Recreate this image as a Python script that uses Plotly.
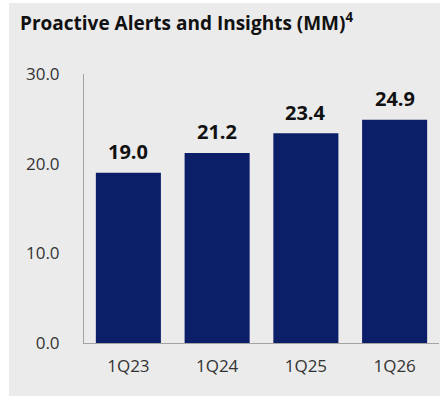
import plotly.graph_objects as go

# Quarterly counts (millions)
quarters = ["1Q23", "1Q24", "1Q25", "1Q26"]
alerts_mm = [19.0, 21.2, 23.4, 24.9]
y_ticks = [0, 10, 20, 30]
y_tick_text = ["0.0", "10.0", "20.0", "30.0"]

BAR_COLOR = "#0b1f68"
PANEL = "#ebebeb"
AXIS = "#a3a3a3"
FONT = "Open Sans"

fig = go.Figure()
fig.add_trace(go.Bar(
    x=quarters,
    y=alerts_mm,
    marker=dict(color=BAR_COLOR, line=dict(width=0)),
    hoverinfo="skip",
))

# value labels above each bar
for q, v in zip(quarters, alerts_mm):
    fig.add_annotation(
        x=q, y=v, text=f"<b>{v:.1f}</b>",
        showarrow=False, yanchor="middle", yshift=21,
        font=dict(family=FONT, size=20, color="#111111"),
    )

# grey card behind the chart
fig.add_shape(
    type="rect", xref="paper", yref="paper", layer="below",
    x0=-75 / 355, x1=1.01, y0=-53 / 269, y1=1 + 71 / 269,
    fillcolor=PANEL, line=dict(width=0),
)

fig.update_layout(
    width=440, height=396,
    margin=dict(l=84, r=1, t=74, b=53),
    paper_bgcolor="white",
    plot_bgcolor=PANEL,
    showlegend=False,
    bargap=0.267,
    title=dict(
        text="<b>Proactive Alerts and Insights (MM)<sup>4</sup></b>",
        x=20 / 440, xanchor="left", xref="container",
        y=1 - 23 / 396, yanchor="middle", yref="container",
        font=dict(family=FONT, size=19, color="#111111"),
    ),
    xaxis=dict(
        showline=True, linecolor=AXIS, linewidth=1,
        showgrid=False, ticks="", zeroline=False,
        tickfont=dict(family=FONT, size=17, color="#333333"),
        ticklabelstandoff=8,
    ),
    yaxis=dict(
        range=[0, 30], tickvals=y_ticks, ticktext=y_tick_text,
        showline=True, linecolor=AXIS, linewidth=1,
        showgrid=False, ticks="", zeroline=False,
        tickfont=dict(family=FONT, size=17, color="#333333"),
        ticklabelstandoff=20,
    ),
)

fig.write_html("out.html")
